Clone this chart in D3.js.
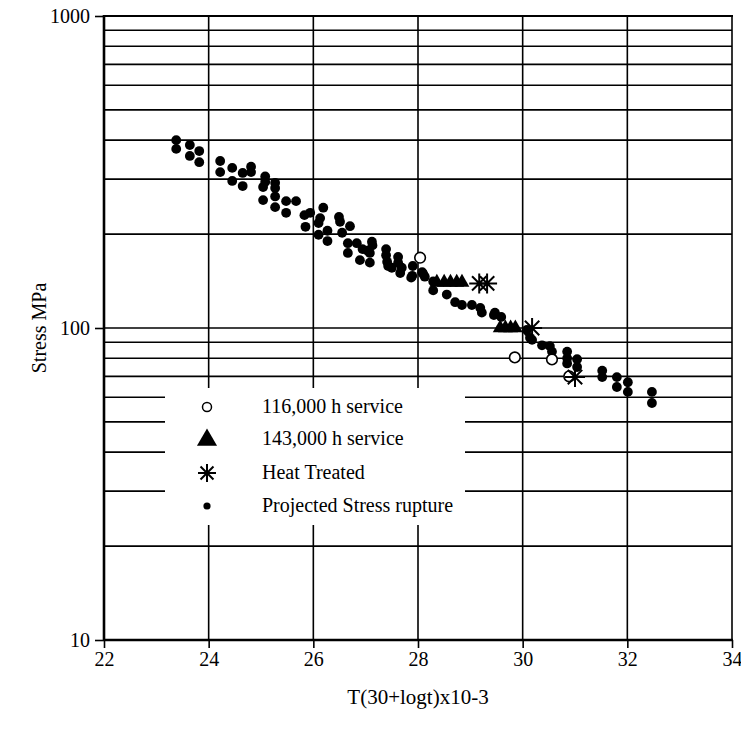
<!DOCTYPE html>
<html><head><meta charset="utf-8">
<script src="https://cdn.jsdelivr.net/npm/d3@7/dist/d3.min.js"></script>
<style>body{margin:0;background:#fff;} svg{display:block;} text{font-family:"Liberation Serif","Times New Roman",serif;fill:#000;}</style>
</head><body>
<svg id="c" width="741" height="734"></svg>
<script>
// ---- data ----
const xTicks = [22, 24, 26, 28, 30, 32, 34];
const yTickLabels = [10, 100, 1000];
const yGridValues = [20, 30, 40, 50, 60, 70, 80, 90, 100, 200, 300, 400, 500, 600, 700, 800, 900, 1000];

const projX = [23.38,23.38,23.64,23.64,23.82,23.82,24.22,24.22,24.45,24.45,24.65,24.65,24.81,24.81,25.08,25.08,25.04,25.04,25.27,25.27,25.27,25.27,25.48,25.48,25.67,25.83,25.94,25.85,26.10,26.13,26.19,26.10,26.27,26.27,26.49,26.51,26.70,26.55,26.66,26.83,26.66,26.94,27.03,27.12,27.08,26.89,27.08,27.13,27.39,27.39,27.41,27.43,27.50,27.62,27.62,27.66,27.87,27.90,28.08,28.10,27.69,27.89,28.13,28.29,28.29,28.55,28.71,28.84,29.03,29.19,29.22,29.47,29.45,29.59,30.08,30.14,30.18,30.37,30.52,30.56,30.85,30.85,31.04,30.85,31.04,31.52,31.52,31.80,31.80,32.01,32.01,32.47,32.47];
const projY = [400,375,386,356,369,340,343,316,326,296,314,285,329,316,306,294,283,257,292,281,264,244,255,234,255,230,234,211,217,225,243,199,205,190,227,219,212,202,187,187,174,179,177,189,174,165,162,184,179,171,163,158,156,169,162,150,145,158,151,149,156,147,146,141,132,128,121,118.5,118.5,116,112,112,110,108.5,98.6,93,91.6,88,87.5,84,84,80,79.4,77,75,73,69.6,69.6,64.7,67,62.4,62.4,57.5];

const s116X = [28.04, 29.85, 30.56, 30.89];
const s116Y = [168, 80.5, 79.3, 70];

const s143X = [28.36, 28.50, 28.62, 28.74, 28.84, 29.57, 29.67, 29.77, 29.86];
const s143Y = [140, 140, 140, 140, 140, 100, 100, 100, 100];

const heatX = [29.17, 29.32, 30.18, 31.0];
const heatY = [139, 139, 100, 69.6];

const legendLabels = ["116,000 h service", "143,000 h service", "Heat Treated", "Projected Stress rupture"];
const xTitle = "T(30+logt)x10-3";
const yTitle = "Stress MPa";

// ---- chart ----
const svg = d3.select("#c");
const x = d3.scaleLinear().domain([22, 34]).range([104, 732]);
const y = d3.scaleLog().domain([10, 1000]).range([640, 16]);

// grid
svg.append("g").selectAll("line").data(yGridValues).join("line")
  .attr("x1", x(22)).attr("x2", x(34))
  .attr("y1", d => y(d)).attr("y2", d => y(d))
  .attr("stroke", "#000").attr("stroke-width", 1.6);
svg.append("g").selectAll("line").data(xTicks.slice(1)).join("line")
  .attr("x1", d => x(d)).attr("x2", d => x(d))
  .attr("y1", y(1000)).attr("y2", y(10))
  .attr("stroke", "#000").attr("stroke-width", 1.6);

// legend background
const lg = svg.append("g");
lg.append("rect").attr("x", 165).attr("y", 388).attr("width", 300).attr("height", 137).attr("fill", "#fff");

// axes
const ax = svg.append("g").attr("transform", `translate(${x(22)},0)`)
  .call(d3.axisLeft(y).tickValues(yTickLabels).tickFormat(d3.format("d")).tickSize(9).tickPadding(5));
const bx = svg.append("g").attr("transform", `translate(0,${y(10)})`)
  .call(d3.axisBottom(x).tickValues(xTicks).tickSize(8).tickPadding(4));
[ax, bx].forEach(g => {
  g.select(".domain").remove();
  g.selectAll("line").attr("stroke", "#000").attr("stroke-width", 1.6);
  g.selectAll("text").attr("font-family", "Liberation Serif").attr("font-size", 20).attr("fill", "#000");
});
svg.append("line").attr("x1", x(22)).attr("x2", x(22)).attr("y1", y(1000) - 1).attr("y2", y(10) + 1).attr("stroke", "#000").attr("stroke-width", 2.6);
svg.append("line").attr("x1", x(22)).attr("x2", x(34) + 1).attr("y1", y(10)).attr("y2", y(10)).attr("stroke", "#000").attr("stroke-width", 2.6);
svg.append("line").attr("x1", x(22)).attr("x2", x(34) + 1).attr("y1", y(1000)).attr("y2", y(1000)).attr("stroke", "#000").attr("stroke-width", 2.2);

// titles
svg.append("text").attr("x", 418).attr("y", 704).attr("text-anchor", "middle").attr("font-size", 21).text(xTitle);
svg.append("text").attr("transform", "translate(46,328) rotate(-90)").attr("text-anchor", "middle").attr("font-size", 20).text(yTitle);

// markers
const starPath = r => `M${-r},0L${r},0M0,${-r}L0,${r}M${-r*0.72},${-r*0.72}L${r*0.72},${r*0.72}M${-r*0.72},${r*0.72}L${r*0.72},${-r*0.72}`;
const tri = d3.symbol(d3.symbolTriangle, 95);
const triL = d3.symbol(d3.symbolTriangle, 175);

const proj = projX.map((v, i) => [v, projY[i]]);
svg.append("g").selectAll("circle").data(proj).join("circle")
  .attr("cx", d => x(d[0])).attr("cy", d => y(d[1])).attr("r", 4.9).attr("fill", "#000");

const t143 = s143X.map((v, i) => [v, s143Y[i]]);
svg.append("g").selectAll("path").data(t143).join("path")
  .attr("d", tri).attr("transform", d => `translate(${x(d[0])},${y(d[1])})`).attr("fill", "#000");

const o116 = s116X.map((v, i) => [v, s116Y[i]]);
svg.append("g").selectAll("circle").data(o116).join("circle")
  .attr("cx", d => x(d[0])).attr("cy", d => y(d[1])).attr("r", 5.3)
  .attr("fill", "#fff").attr("stroke", "#000").attr("stroke-width", 1.6);

const ht = heatX.map((v, i) => [v, heatY[i]]);
svg.append("g").selectAll("path").data(ht).join("path")
  .attr("d", starPath(10)).attr("transform", d => `translate(${x(d[0])},${y(d[1])})`)
  .attr("stroke", "#000").attr("stroke-width", 2).attr("fill", "none");

// legend
const rows = [407, 439, 473, 506];
lg.append("circle").attr("cx", 207).attr("cy", rows[0]).attr("r", 4.5).attr("fill", "#fff").attr("stroke", "#000").attr("stroke-width", 1.5);
lg.append("path").attr("d", triL).attr("transform", `translate(207,${rows[1] + 1})`).attr("fill", "#000");
lg.append("path").attr("d", starPath(9)).attr("transform", `translate(207,${rows[2]})`).attr("stroke", "#000").attr("stroke-width", 2).attr("fill", "none");
lg.append("circle").attr("cx", 207).attr("cy", rows[3]).attr("r", 3.6).attr("fill", "#000");
lg.selectAll("text.l").data(legendLabels).join("text").attr("class", "l")
  .attr("x", 262).attr("y", (d, i) => rows[i] + 6).attr("font-size", 20).text(d => d);
</script>
</body></html>
